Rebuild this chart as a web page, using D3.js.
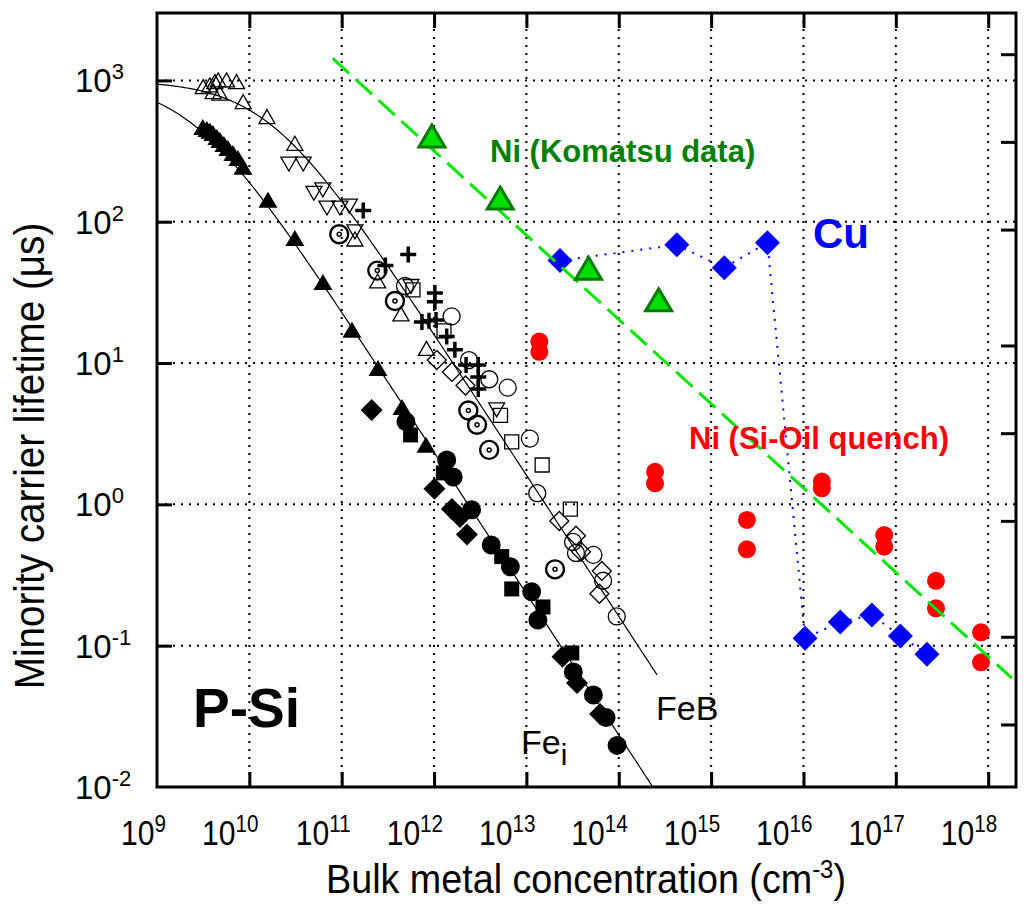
<!DOCTYPE html>
<html lang="en">
<head>
<meta charset="UTF-8">
<title>Minority carrier lifetime vs bulk metal concentration</title>
<style>
  body { margin: 0; background: #fff; }
  svg { font-family: "Liberation Sans", Arial, sans-serif; }
  .grid line { stroke: #000; stroke-width: 2; stroke-dasharray: 2,6; }
  .ticks line { stroke: #000; stroke-width: 3; }
  .ticks path { display: none; }
</style>
</head>
<body>
<svg id="chart" width="1029" height="905"></svg>
<script src="https://d3js.org/d3.v7.min.js"></script>
<script>
// ---- data: [concentration cm^-3, lifetime us] ----
const fepTriUp = [[3.16e9,904],[3.73e9,929],[4.23e9,981],[4.59e9,1008],[5.66e9,1008],[7.26e9,981],
  [4.05e9,833],[4.79e9,812],[8.57e9,708],[1.55e10,554],[3.11e10,359],[1.39e11,75.5],
  [2.45e11,38.1],[4.38e11,22.3],[8.28e11,12.7]];
const fepTriDown = [[2.68e10,256],[3.83e10,256],[5.00e10,159],[6.25e10,168],[6.92e10,125],
  [9.56e10,125],[1.21e11,129],[1.39e11,84.7],[5.62e11,34.8],[4.76e12,4.66]];
const fepDotCircle = [[9.40e10,81.6],[2.43e11,45.1],[3.77e11,27.5],[2.35e12,4.62],[2.92e12,3.66],
  [3.95e12,2.43],[2.04e13,0.347]];
const fepPlus = [[1.71e11,120],[5.25e11,58.7],[2.97e11,49.1],[1.02e12,31.3],[1.02e12,27.1],
  [7.39e11,19.5],[8.81e11,19.9],[1.05e12,20.2],[1.37e12,15.4],[1.68e12,12.4],[2.22e12,9.70],
  [3.01e12,9.70],[3.01e12,7.98],[3.01e12,6.56]];
const fepCircle = [[4.84e11,35.1],[1.55e12,21.4],[2.39e12,10.5],[3.96e12,7.68],[6.27e12,6.70],
  [1.09e13,2.92],[1.31e13,1.20],[3.20e13,0.542],[3.44e13,0.453],[5.31e13,0.439],[6.76e13,0.288],
  [9.51e13,0.161]];
const fepSquare = [[5.91e11,32.9],[1.28e12,16.9],[5.24e12,4.26],[6.93e12,2.77],[1.48e13,1.90],
  [2.99e13,0.925]];
const fepDiamond = [[1.07e12,10.5],[1.56e12,8.65],[2.19e12,6.94],[2.27e13,0.763],[3.44e13,0.600],
  [3.91e13,0.462],[6.55e13,0.338],[6.17e13,0.233]];

const feiTri = [[3.13e9,469],[3.47e9,454],[3.74e9,440],[4.03e9,425],[4.45e9,398],[4.80e9,379],
  [5.30e9,355],[5.85e9,333],[6.63e9,307],[7.51e9,283],[8.51e9,245],[1.59e10,143],[3.11e10,76.8],
  [6.26e10,37.5],[1.29e11,17.2],[2.47e11,9.23],[4.49e11,4.89],[8.17e11,2.64]];
const feiDiamond = [[2.11e11,4.66],[1.01e12,1.29],[1.56e12,0.928],[1.91e12,0.815],[2.27e12,0.612],
  [2.46e13,0.0836],[3.53e13,0.0545],[6.27e13,0.0329]];
const feiSquare = [[5.57e11,3.10],[1.26e12,1.67],[5.40e12,0.427],[6.93e12,0.252],[1.51e13,0.188],
  [3.10e13,0.0888]];
const feiCircle = [[4.96e11,3.85],[1.37e12,2.06],[1.61e12,1.56],[2.55e12,0.917],[4.16e12,0.516],
  [6.70e12,0.362],[1.14e13,0.241],[1.33e13,0.152],[3.22e13,0.0652],[5.31e13,0.0448],
  [7.28e13,0.0310],[9.59e13,0.0197]];

const niKomatsu = [[9.48e11,404],[5.2e12,147],[4.7e13,46.9],[2.7e14,28]];
const niKomatsuTrend = [[8.0e10,1430],[1.8e18,0.059]];
const cuData = [[2.31e13,53.1],[4.25e14,68.6],[1.39e15,47.3],[4.07e15,71.1],[1.04e16,0.113],
  [2.5e16,0.147],[5.5e16,0.165],[1.12e17,0.117],[2.17e17,0.087]];
const niOil = [[1.38e13,14.2],[1.38e13,12.0],[2.47e14,1.70],[2.47e14,1.41],[2.44e15,0.776],
  [2.44e15,0.481],[1.58e16,1.45],[1.58e16,1.30],[7.48e16,0.607],[7.48e16,0.502],[2.72e17,0.288],
  [2.72e17,0.184],[8.36e17,0.1244],[8.36e17,0.0763]];

// model curves tau = 1/(1/tau0 + k*N)
const fitTau0 = 1000;
const fitFeB = {k: 6.2e-14, nMax: 2.6e14};
const fitFei = {k: 4.28e-13, nMax: 3e14};

const xTicks = [1e9,1e10,1e11,1e12,1e13,1e14,1e15,1e16,1e17,1e18];
const yTicks = [1e-2,1e-1,1e0,1e1,1e2,1e3];
const yRightTicks = [0.01,0.02,0.05,0.1,0.2,0.5,1,2];

// ---- layout ----
const svg = d3.select("#chart");
const L = 157, R = 1016, T = 13, B = 787;

const x = d3.scaleLog().domain([1e9, 2e18]).range([L, R]);
const y = d3.scaleLog().domain([1e-2, 3e3]).range([B, T]);
const yRight = d3.scaleLog().domain([0.0061, 2.77]).range([B, T]);

svg.append("clipPath").attr("id", "plot")
  .append("rect").attr("x", L).attr("y", T).attr("width", R - L).attr("height", B - T);

// grid
const grid = svg.append("g").attr("class", "grid");
grid.selectAll(".v").data(xTicks.slice(1)).join("line")
  .attr("x1", d => x(d)).attr("x2", d => x(d)).attr("y1", T).attr("y2", B);
grid.selectAll(".h").data(yTicks.slice(1)).join("line")
  .attr("y1", d => y(d)).attr("y2", d => y(d)).attr("x1", L).attr("x2", R);

const plot = svg.append("g").attr("clip-path", "url(#plot)");

// fit curves
function fitPoints(fit) {
  const pts = [];
  const n = 200, a = 9, b = Math.log10(fit.nMax);
  for (let i = 0; i <= n; i++) {
    const N = Math.pow(10, a + (b - a) * i / n);
    pts.push([N, 1 / (1 / fitTau0 + fit.k * N)]);
  }
  return pts;
}
const line = d3.line().x(d => x(d[0])).y(d => y(d[1]));
[fitFeB, fitFei].forEach(f => {
  plot.append("path").attr("d", line(fitPoints(f)))
    .attr("fill", "none").attr("stroke", "#000").attr("stroke-width", 1.2);
});

// marker shapes (centered)
const shape = {
  triUp: (w, h) => `M0,${-h/2}L${w},${h/2}L${-w},${h/2}Z`,
  triDown: (w, h) => `M0,${h/2}L${w},${-h/2}L${-w},${-h/2}Z`,
  square: s => `M${-s},${-s}H${s}V${s}H${-s}Z`,
  diamond: s => `M0,${-s}L${s},0L0,${s}L${-s},0Z`,
  plus: s => `M${-s},0H${s}M0,${-s}V${s}`
};

function drawPaths(data, d, fill, stroke, sw) {
  plot.append("g").selectAll("path").data(data).join("path")
    .attr("transform", p => `translate(${x(p[0])},${y(p[1])})`)
    .attr("d", d)
    .attr("fill", fill).attr("stroke", stroke).attr("stroke-width", sw);
}
function drawCircles(data, r, fill, stroke, sw) {
  plot.append("g").selectAll("circle").data(data).join("circle")
    .attr("cx", p => x(p[0])).attr("cy", p => y(p[1])).attr("r", r)
    .attr("fill", fill).attr("stroke", stroke).attr("stroke-width", sw);
}

// FeB group (open symbols)
drawPaths(fepTriUp, shape.triUp(8, 14), "none", "#000", 1.3);
drawPaths(fepTriDown, shape.triDown(8, 14), "none", "#000", 1.3);
drawCircles(fepCircle, 8.5, "none", "#000", 1.3);
drawPaths(fepSquare, shape.square(7), "none", "#000", 1.3);
drawPaths(fepDiamond, shape.diamond(9.5), "none", "#000", 1.3);
drawCircles(fepDotCircle, 9, "none", "#000", 2.4);
drawCircles(fepDotCircle, 2, "none", "#000", 1.5);
drawPaths(fepPlus, shape.plus(8), "none", "#000", 3.5);

// Fe_i group (filled symbols)
drawPaths(feiTri, shape.triUp(9.5, 16), "#000", "none", 0);
drawPaths(feiDiamond, shape.diamond(11), "#000", "none", 0);
drawPaths(feiSquare, shape.square(7.5), "#000", "none", 0);
drawCircles(feiCircle, 9.5, "#000", "none", 0);

// Cu dotted connector + Ni (oil quench) + Cu diamonds
plot.append("path").attr("d", line(cuData))
  .attr("fill", "none").attr("stroke", "#0000ff").attr("stroke-width", 2)
  .attr("stroke-dasharray", "2,7");
drawCircles(niOil, 9, "#ff0000", "none", 0);
drawPaths(cuData, shape.diamond(12.5), "#0000ff", "none", 0);

// Komatsu trend + points
plot.append("path").attr("d", line(niKomatsuTrend))
  .attr("fill", "none").attr("stroke", "#00e600").attr("stroke-width", 3)
  .attr("stroke-dasharray", "22,9");
drawPaths(niKomatsu, shape.triUp(13, 22), "#00e000", "#007a00", 3);

// ---- axes (ticks only, frame drawn separately) ----
const tick = 15;
const nolab = () => "";
svg.append("g").attr("class", "ticks").attr("transform", `translate(0,${B})`)
  .call(d3.axisTop(x).tickValues(xTicks.slice(1)).tickSize(tick).tickFormat(nolab));
svg.append("g").attr("class", "ticks").attr("transform", `translate(0,${T})`)
  .call(d3.axisBottom(x).tickValues(xTicks.slice(1)).tickSize(tick).tickFormat(nolab));
svg.append("g").attr("class", "ticks").attr("transform", `translate(${L},0)`)
  .call(d3.axisRight(y).tickValues(yTicks.slice(1)).tickSize(tick).tickFormat(nolab));
svg.append("g").attr("class", "ticks").attr("transform", `translate(${R},0)`)
  .call(d3.axisLeft(yRight).tickValues(yRightTicks).tickSize(tick).tickFormat(nolab));
svg.selectAll(".ticks text").remove();

svg.append("rect").attr("x", L).attr("y", T).attr("width", R - L).attr("height", B - T)
  .attr("fill", "none").attr("stroke", "#000").attr("stroke-width", 3);

// tick labels with superscripts
const exp = d => Math.round(Math.log10(d));
const xl = svg.append("g").selectAll("text").data(xTicks).join("text")
  .attr("transform", d => `translate(${x(d) + 9},845) scale(0.86,1)`)
  .attr("text-anchor", "end").attr("font-size", 35);
xl.append("tspan").text("10");
xl.append("tspan").attr("dy", -13).attr("font-size", 24).text(d => exp(d));

const yl = svg.append("g").selectAll("text").data(yTicks).join("text")
  .attr("x", 75).attr("y", d => y(d) + 12)
  .attr("font-size", 33);
yl.append("tspan").text("10");
yl.append("tspan").attr("dy", -13).attr("font-size", 22).text(d => exp(d) < 0 ? "-" + Math.abs(exp(d)) : exp(d));

// axis titles
const xt = svg.append("text").attr("transform", "translate(586,893) scale(0.92,1)")
  .attr("text-anchor", "middle").attr("font-size", 41);
xt.append("tspan").text("Bulk metal concentration (cm");
xt.append("tspan").attr("dy", -15).attr("font-size", 26).text("-3");
xt.append("tspan").attr("dy", 15).text(")");

svg.append("text").attr("transform", "translate(44,456) rotate(-90) scale(0.92,1)")
  .attr("text-anchor", "middle").attr("font-size", 42)
  .text("Minority carrier lifetime (\u03bcs)");

// annotations
svg.append("text").attr("x", 490).attr("y", 162).attr("font-size", 31).attr("font-weight", "bold")
  .attr("fill", "#008000").text("Ni (Komatsu data)");
svg.append("text").attr("x", 813).attr("y", 248).attr("font-size", 42).attr("font-weight", "bold")
  .attr("fill", "#0000ff").text("Cu");
svg.append("text").attr("x", 689).attr("y", 449).attr("font-size", 31).attr("font-weight", "bold")
  .attr("fill", "#ff0000").text("Ni (Si-Oil quench)");
svg.append("text").attr("x", 193).attr("y", 727).attr("font-size", 55).attr("font-weight", "bold")
  .text("P-Si");
svg.append("text").attr("x", 656).attr("y", 720).attr("font-size", 34).text("FeB");
const fei = svg.append("text").attr("x", 521).attr("y", 754).attr("font-size", 34);
fei.append("tspan").text("Fe");
fei.append("tspan").attr("dy", 11).attr("font-size", 30).text("i");
</script>
</body>
</html>
